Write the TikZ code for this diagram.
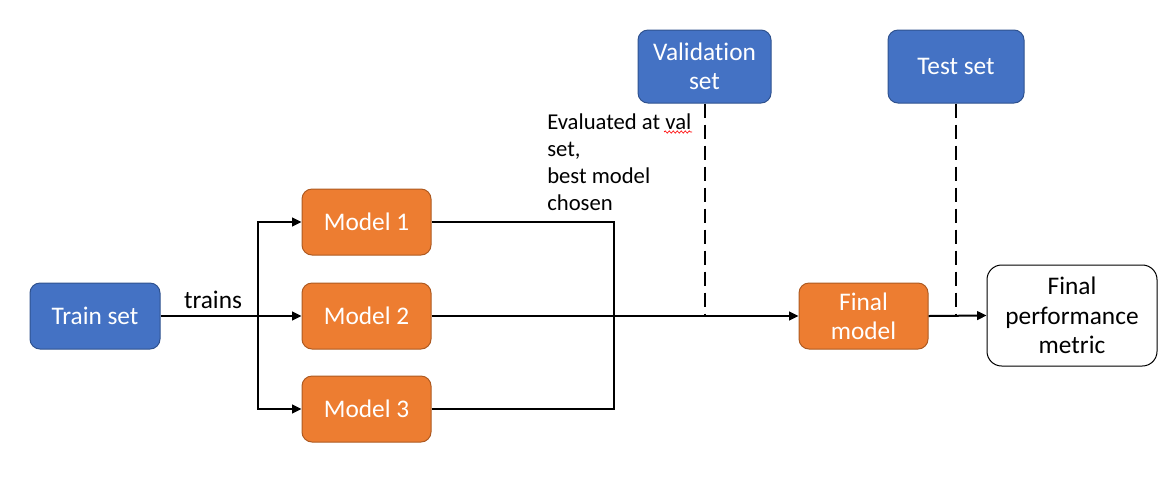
\documentclass[tikz,border=0pt]{standalone}
\usepackage{fontspec}
\setmainfont[Ligatures=NoCommon]{Carlito}
\usetikzlibrary{arrows.meta,decorations.pathmorphing}
\definecolor{boxblue}{HTML}{4472C4}
\definecolor{blueedge}{HTML}{2F528F}
\definecolor{boxorange}{HTML}{ED7D31}
\definecolor{orangeedge}{HTML}{AE5A21}
\tikzset{
  base/.style={rounded corners=7.5pt, line width=0.75pt, align=center,
    font=\fontsize{19}{22}\selectfont, inner sep=0pt},
  bluebox/.style={base, fill=boxblue, draw=blueedge, text=white},
  orangebox/.style={base, fill=boxorange, draw=orangeedge, text=white},
  whitebox/.style={base, fill=white, draw=black, text=black, rounded corners=11pt},
  thick arrow/.style={line width=1.5pt, -{Triangle[length=7pt,width=6.5pt]}},
  thin line/.style={line width=1pt},
  dashed line/.style={line width=1.5pt, dash pattern=on 10.5pt off 5.25pt},
  squiggle/.style={red, line width=0.5pt, decorate, decoration={snake, amplitude=0.8pt, segment length=3pt}},
}
\begin{document}
\begin{tikzpicture}[x=0.75pt,y=-0.75pt]
\useasboundingbox (0,0) rectangle (1173,476);
\node[bluebox, minimum width=97.5pt, minimum height=49.5pt] (train) at (95,316) {Train set};
\node[orangebox, minimum width=96.75pt, minimum height=49.5pt] (m1) at (366.5,222) {Model 1};
\node[orangebox, minimum width=96.75pt, minimum height=49.5pt] (m2) at (366.5,316) {Model 2};
\node[orangebox, minimum width=96.75pt, minimum height=49.5pt] (m3) at (366.5,409) {Model 3};
\node[bluebox, minimum width=99.75pt, minimum height=54.75pt] (val) at (704.5,66.5) {Validation\\set};
\node[bluebox, minimum width=102pt, minimum height=54.75pt] (test) at (956,66.5) {Test set};
\node[orangebox, minimum width=96.75pt, minimum height=49.5pt] (final) at (863.5,316) {Final\\model};
\node[whitebox, minimum width=127.5pt, minimum height=75.75pt] (metric) at (1072,315.5) {Final\\performance\\metric};
\node[anchor=north west, inner sep=0pt, align=left, font=\fontsize{17}{20.25}\selectfont] (evaltext) at (547,113) {Evaluated at val\\set,\\best model\\chosen};
\coordinate (sqa) at (664,132);
\coordinate (sqb) at (692,132);
\draw[squiggle] (sqa) -- (sqb);
% branch
\coordinate (br) at (258,316);
\coordinate (j) at (614,316);
\node[font=\fontsize{19}{22}\selectfont, inner sep=0pt, anchor=base] (trains) at (213,308) {trains};
\draw[line width=1.5pt] (train.east) -- (br);
\draw[thick arrow] (br) -- (m2.west);
\draw[thick arrow] (br) |- (m1.west);
\draw[thick arrow] (br) |- (m3.west);
\draw[thin line] (m1.east) -| (j);
\draw[thin line] (m3.east) -| (j);
\draw[thin line] (m2.east) -- (j);
\draw[thick arrow] (j) -- (final.west);
\draw[thick arrow] (final.east) -- (metric.west);
\draw[dashed line] (val.south) -- (val.south |- j);
\draw[dashed line] (test.south) -- (test.south |- j);
\end{tikzpicture}
\end{document}
